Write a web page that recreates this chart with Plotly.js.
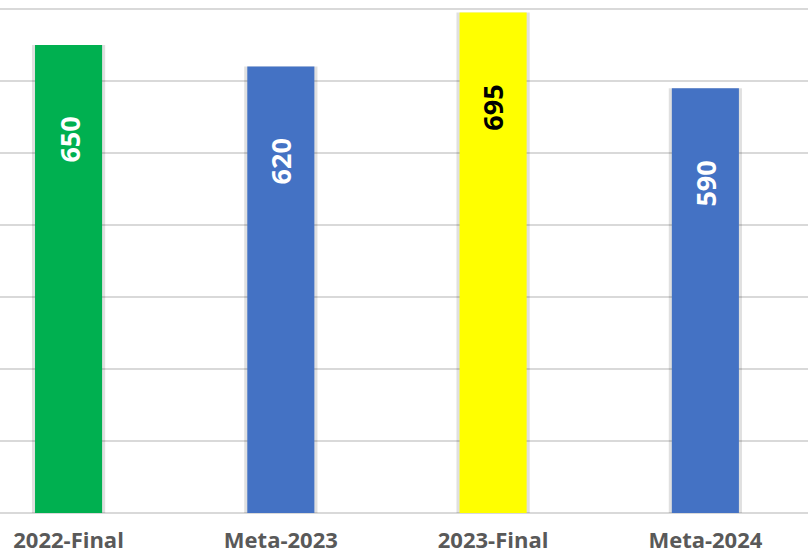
<!DOCTYPE html>
<html>
<head>
<meta charset="utf-8">
<script src="https://cdn.plot.ly/plotly-3.0.1.min.js"></script>
<style>html,body{margin:0;padding:0;background:#fff;}#chart{width:808px;height:558px;}</style>
</head>
<body>
<div id="chart"></div>
<script>
const categories = ["2022-Final", "Meta-2023", "2023-Final", "Meta-2024"];
const values = [650, 620, 695, 590];
const barColors = ["#00B050", "#4472C4", "#FFFF00", "#4472C4"];
const labelColors = ["#FFFFFF", "#FFFFFF", "#000000", "#FFFFFF"];

const labelDrop = 132; // label sits this many units below bar top

const shadow = {
  type: "bar", x: categories, y: values, width: 0.345,
  marker: {color: "rgba(0,0,0,0.12)"}, hoverinfo: "skip", showlegend: false
};
const bars = {
  type: "bar", x: categories, y: values, width: 0.316,
  marker: {color: barColors}, hoverinfo: "skip", showlegend: false
};

const annotations = categories.map((c, i) => ({
  x: c, y: values[i] - labelDrop, xref: "x", yref: "y",
  text: "<b>" + values[i] + "</b>", textangle: -90, showarrow: false,
  font: {family: "Open Sans", size: 27, color: labelColors[i]}
}));

const layout = {
  width: 808, height: 558,
  margin: {l: 0, r: 0, t: 0, b: 45, pad: 0},
  paper_bgcolor: "#ffffff", plot_bgcolor: "#ffffff",
  barmode: "overlay",
  xaxis: {
    type: "category", range: [-0.323, 3.4835],
    showgrid: false, showline: false, ticks: "", zeroline: false,
    tickfont: {family: "Open Sans", size: 22, color: "#595959", weight: "bold"},
    ticklabelstandoff: 12
  },
  yaxis: {
    range: [0, 712.5], dtick: 100, showticklabels: false,
    gridcolor: "#d9d9d9", gridwidth: 2,
    zeroline: true, zerolinecolor: "#d9d9d9", zerolinewidth: 2,
    showline: false, ticks: ""
  },
  annotations: annotations,
  showlegend: false
};

Plotly.newPlot("chart", [shadow, bars], layout, {displayModeBar: false, staticPlot: true});
</script>
</body>
</html>
